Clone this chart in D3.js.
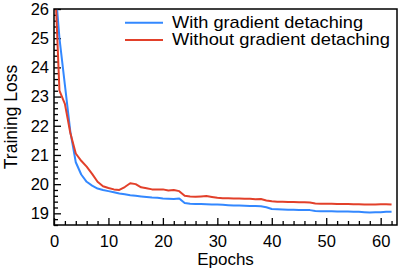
<!DOCTYPE html>
<html>
<head>
<meta charset="utf-8">
<script src="https://cdn.jsdelivr.net/npm/d3@7"></script>
<style>
  body { margin: 0; background: #fff; }
  svg { font-family: "Liberation Sans", Arial, sans-serif; }
</style>
</head>
<body>
<div id="chart"></div>
<script>
// epochs and training loss
const epochs = d3.range(0, 63);
const withDetach = [27.3, 25.0, 23.4, 21.8, 20.75, 20.33, 20.08, 19.95, 19.85, 19.8,
  19.76, 19.72, 19.68, 19.65, 19.62, 19.6, 19.58, 19.56, 19.54, 19.53,
  19.51, 19.5, 19.49, 19.51, 19.35, 19.33, 19.32, 19.32, 19.31, 19.3,
  19.3, 19.29, 19.28, 19.27, 19.27, 19.26, 19.25, 19.25, 19.24, 19.21,
  19.15, 19.14, 19.13, 19.12, 19.12, 19.11, 19.11, 19.11, 19.08, 19.07,
  19.07, 19.07, 19.06, 19.06, 19.06, 19.05, 19.05, 19.04, 19.03, 19.04,
  19.04, 19.05, 19.05];
const withoutDetach = [27.8, 23.2, 22.75, 21.75, 21.05, 20.8, 20.6, 20.35, 20.08, 19.93,
  19.87, 19.82, 19.8, 19.9, 20.03, 20.0, 19.89, 19.86, 19.82, 19.82,
  19.82, 19.78, 19.8, 19.76, 19.6, 19.58, 19.57, 19.58, 19.59, 19.56,
  19.53, 19.52, 19.52, 19.51, 19.51, 19.5, 19.5, 19.48, 19.49, 19.44,
  19.41, 19.4, 19.4, 19.39, 19.39, 19.38, 19.38, 19.37, 19.34, 19.33,
  19.33, 19.33, 19.32, 19.32, 19.32, 19.31, 19.31, 19.3, 19.3, 19.3,
  19.31, 19.31, 19.3];
const seriesNames = ["With gradient detaching", "Without gradient detaching"];
const seriesColors = ["#3388ff", "#e2402a"];
const xTicks = [0, 10, 20, 30, 40, 50, 60];
const yTicks = [19, 20, 21, 22, 23, 24, 25, 26];

const margin = {top: 9, right: 10, bottom: 46, left: 54},
      width = 407 - margin.left - margin.right,
      height = 271 - margin.top - margin.bottom;

const svg = d3.select("#chart")
  .append("svg")
    .attr("width", width + margin.left + margin.right)
    .attr("height", height + margin.top + margin.bottom)
  .append("g")
    .attr("transform", `translate(${margin.left},${margin.top})`);

const x = d3.scaleLinear().domain([0, 63]).range([0, width]);
const y = d3.scaleLinear().domain([18.6, 26]).range([height, 0]);

svg.append("clipPath").attr("id", "clip")
  .append("rect").attr("width", width).attr("height", height);

// minor ticks
const xMinor = d3.range(0, 63, 2).filter(d => d % 10 !== 0);
const yMinor = d3.range(18.6, 26.001, 0.2).map(d => +d.toFixed(1)).filter(d => Math.abs(d - Math.round(d)) > 0.01);

svg.append("g")
  .attr("transform", `translate(0,${height})`)
  .call(d3.axisBottom(x).tickValues(xMinor).tickSize(-4).tickFormat(""));
svg.append("g")
  .call(d3.axisLeft(y).tickValues(yMinor).tickSize(-4).tickFormat(""));

svg.append("g")
  .attr("transform", `translate(0,${height})`)
  .call(d3.axisBottom(x).tickValues(xTicks).tickSize(-7).tickPadding(10.5));
svg.append("g")
  .call(d3.axisLeft(y).tickValues(yTicks).tickSize(-7).tickPadding(5));

svg.selectAll(".domain").remove();
svg.selectAll(".tick line").attr("stroke", "#000").attr("stroke-width", 1.3);
svg.selectAll(".tick text").attr("font-size", 16.5).attr("font-family", "Liberation Sans, Arial, sans-serif").attr("fill", "#000");

// lines
const line = d3.line().x((d, i) => x(epochs[i])).y(d => y(d));
[withDetach, withoutDetach].forEach((s, k) => {
  svg.append("path")
    .datum(s)
    .attr("clip-path", "url(#clip)")
    .attr("fill", "none")
    .attr("stroke", seriesColors[k])
    .attr("stroke-width", 2)
    .attr("stroke-linejoin", "round")
    .attr("d", line);
});

// frame
svg.append("rect")
  .attr("width", width).attr("height", height)
  .attr("fill", "none").attr("stroke", "#000").attr("stroke-width", 1.5);

// legend
const legendWidths = [191, 218];
const legend = svg.append("g").attr("transform", "translate(71,13.7)");
seriesNames.forEach((name, k) => {
  const g = legend.append("g").attr("transform", `translate(0,${k * 17.4})`);
  g.append("line").attr("x1", 0).attr("x2", 38).attr("y1", 0).attr("y2", 0)
    .attr("stroke", seriesColors[k]).attr("stroke-width", 2);
  g.append("text").attr("x", 47).attr("y", 5.2)
    .attr("font-size", 17)
    .attr("textLength", legendWidths[k]).attr("lengthAdjust", "spacingAndGlyphs")
    .text(name);
});

// axis titles
svg.append("text")
  .attr("x", width / 2).attr("y", height + 39.5)
  .attr("text-anchor", "middle").attr("font-size", 17)
  .text("Epochs");
svg.append("text")
  .attr("transform", `translate(-37,${height / 2}) rotate(-90)`)
  .attr("text-anchor", "middle").attr("font-size", 17.5)
  .text("Training Loss");
</script>
</body>
</html>
